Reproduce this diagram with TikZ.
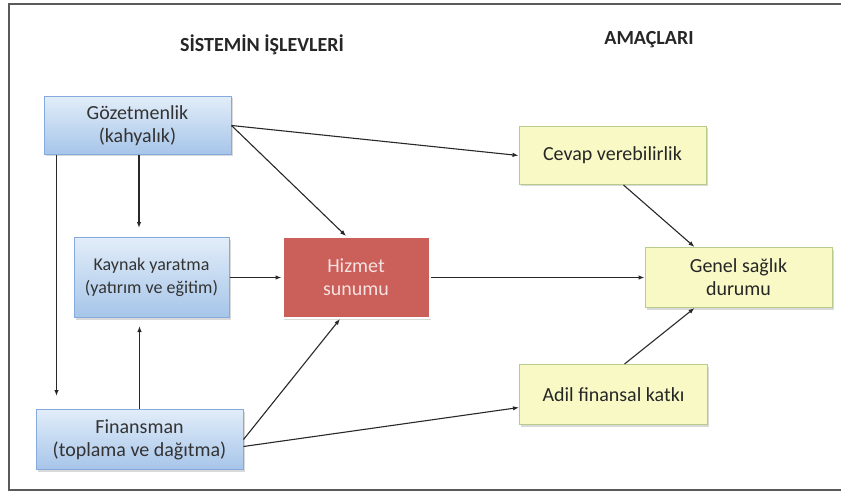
\documentclass[tikz,border=0pt]{standalone}
\usepackage{fontspec}
\setmainfont{Carlito}
\usetikzlibrary{positioning, shadows, arrows.meta}

\definecolor{bluetop}{RGB}{226,237,249}
\definecolor{bluebot}{RGB}{166,197,233}
\definecolor{blueline}{RGB}{132,170,222}
\definecolor{redfill}{RGB}{203,96,91}
\definecolor{redtext}{RGB}{246,226,224}
\definecolor{yellowfill}{RGB}{249,249,198}
\definecolor{yellowline}{RGB}{181,204,140}
\definecolor{framegray}{RGB}{90,90,90}
\definecolor{arrowgray}{RGB}{40,40,40}

\begin{document}
\begin{tikzpicture}[x=1pt, y=-1pt, >={Latex[length=6pt,width=4.5pt]},
    every node/.style={rectangle, text centered, align=center, inner sep=0pt, text=black!80, font=\fontsize{20}{23}\selectfont},
    bluebox/.style={draw=blueline, line width=1pt, top color=bluetop, bottom color=bluebot, drop shadow={opacity=0.3, shadow xshift=1.5pt, shadow yshift=-2pt}},
    redbox/.style={draw=white, line width=2pt, fill=redfill, text=redtext, drop shadow={opacity=0.3, shadow xshift=1.5pt, shadow yshift=-2pt}},
    yellowbox/.style={draw=yellowline, line width=1pt, fill=yellowfill, text=black!85, drop shadow={opacity=0.3, shadow xshift=1.5pt, shadow yshift=-2pt}},
    heading/.style={font=\bfseries\fontsize{20}{23}\selectfont, text=black!85},
    link/.style={draw=arrowgray, line width=1.1pt, ->}]

    \useasboundingbox (0,0) rectangle (841,492);

    % Frame
    \draw[framegray, line width=1.5pt] (841,4) -- (9,4) -- (9,490) -- (841,490);

    % Headings
    \node (title1) [heading] at (262,45) {SİSTEMİN İŞLEVLERİ};
    \node (title2) [heading] at (649,40) {AMAÇLARI};

    % Nodes
    \node (hiz) [redbox, minimum width=147pt, minimum height=81pt] at (356,277.5) {Hizmet\\ sunumu};
    \node (kay) [bluebox, left=52pt of hiz, minimum width=155pt, minimum height=80pt, font=\fontsize{18}{23}\selectfont] {Kaynak yaratma\\ (yatırım ve eğitim)};
    \node (goz) [bluebox, above=82pt of kay, xshift=-14pt, minimum width=187pt, minimum height=58pt] {Gözetmenlik\\ (kahyalık)};
    \node (fin) [bluebox, below=91pt of kay, xshift=-12pt, minimum width=207pt, minimum height=60pt] {Finansman\\ (toplama ve dağıtma)};
    \node (gen) [yellowbox, right=214pt of hiz, minimum width=187pt, minimum height=60pt] {Genel sağlık\\ durumu};
    \node (cev) [yellowbox, above=62pt of gen, xshift=-126pt, minimum width=187pt, minimum height=58pt] {Cevap verebilirlik};
    \node (adil) [yellowbox, below=56pt of gen, xshift=-125pt, minimum width=188pt, minimum height=60pt] {Adil finansal katkı};

    % Arrows
    \draw[link] (goz.east) -- (cev.west);
    \draw[link] (goz.east) -- ([xshift=-10pt]hiz.north);
    \draw[link, shorten >=9pt] ([xshift=1.5pt]goz.south) -- ([xshift=1.5pt]goz.south |- kay.north);
    \draw[link, shorten >=13pt] ([xshift=13pt]goz.south west) -- ([xshift=13pt]goz.south west |- fin.north);
    \draw[link, shorten >=8pt] (fin.north) -- (fin.north |- kay.south);
    \draw[link] (kay.east) -- (hiz.west);
    \draw[link] (fin.east) -- ([xshift=-16pt]hiz.south);
    \draw[link] ([yshift=-7pt]fin.east) -- ([yshift=-13pt]adil.west);
    \draw[link] (hiz.east) -- (gen.west);
    \draw[link] ([xshift=11pt]cev.south) -- ([xshift=-44pt]gen.north);
    \draw[link] ([xshift=11pt]adil.north) -- ([xshift=-44pt]gen.south);

\end{tikzpicture}
\end{document}
